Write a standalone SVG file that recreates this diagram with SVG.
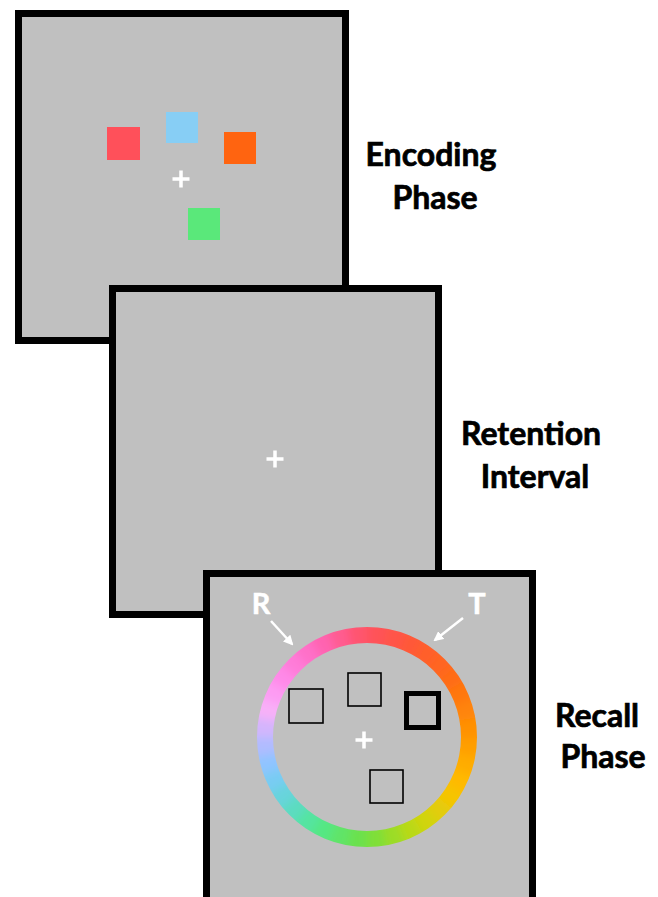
<svg xmlns="http://www.w3.org/2000/svg" width="658" height="897" viewBox="0 0 658 897">
<style>
.panel{fill:#c0c0c0;stroke:#000;stroke-width:7}
.cross{stroke:#fff;stroke-width:3.5;fill:none}
.label{font-family:Lato,"Liberation Sans",sans-serif;font-weight:bold;font-size:32px;fill:#000;stroke:#000;stroke-width:0.7;text-anchor:middle}
.letter{font-family:Lato,"Liberation Sans",sans-serif;font-weight:bold;font-size:29px;fill:#fff;stroke:#fff;stroke-width:0.5;text-anchor:middle}
.probe{fill:none;stroke:#000;stroke-width:1.6}
.seg{fill:none;stroke-width:34;stroke-dasharray:18.6 700}
.arrow{stroke:#fff;stroke-width:2.5;fill:none;marker-end:url(#ah)}
</style>
<defs>
<marker id="ah" viewBox="0 0 10 10" refX="8" refY="5" markerWidth="4" markerHeight="4" orient="auto" markerUnits="strokeWidth">
<path d="M0,0 L10,5 L0,10 z" fill="#fff"/>
</marker>
<clipPath id="ringclip">
<path clip-rule="evenodd" d="M110,0 A110,110 0 1,1 -110,0 A110,110 0 1,1 110,0 Z M94,0 A94,94 0 1,0 -94,0 A94,94 0 1,0 94,0 Z"/>
</clipPath>
<filter id="smooth" x="-20%" y="-20%" width="140%" height="140%">
<feGaussianBlur stdDeviation="5"/>
</filter>
</defs>
<rect width="658" height="897" fill="#fff"/>
<g id="encoding">
<rect class="panel" x="18.5" y="13.5" width="327" height="327"/>
<rect x="107" y="127" width="33" height="33" fill="#ff505a"/>
<rect x="166" y="112" width="32" height="31" fill="#87cef5"/>
<rect x="224" y="132" width="32" height="32" fill="#ff6410"/>
<rect x="188" y="208" width="32" height="32" fill="#5ae87a"/>
<path class="cross" d="M172.5,179 H189.5 M181,170.5 V187.5"/>
<text class="label" x="431" y="166">Encoding</text>
<text class="label" x="435" y="209">Phase</text>
</g>
<g id="retention">
<rect class="panel" x="112.5" y="288.5" width="326" height="326"/>
<path class="cross" d="M266.5,459 H283.5 M275,450.5 V467.5"/>
<text class="label" x="531" y="445">Retention</text>
<text class="label" x="535" y="488">Interval</text>
</g>
<g id="recall">
<rect class="panel" x="206.5" y="573.5" width="326" height="335"/>
<g id="wheel" transform="translate(367,737)" clip-path="url(#ringclip)">
<g filter="url(#smooth)">
<circle class="seg" r="102" stroke="#ff9f00" transform="rotate(0)"/>
<circle class="seg" r="102" stroke="#ffac00" transform="rotate(10)"/>
<circle class="seg" r="102" stroke="#ffb900" transform="rotate(20)"/>
<circle class="seg" r="102" stroke="#f6c403" transform="rotate(30)"/>
<circle class="seg" r="102" stroke="#e3cc08" transform="rotate(40)"/>
<circle class="seg" r="102" stroke="#d1d40d" transform="rotate(50)"/>
<circle class="seg" r="102" stroke="#b9d918" transform="rotate(60)"/>
<circle class="seg" r="102" stroke="#9cdc28" transform="rotate(70)"/>
<circle class="seg" r="102" stroke="#7fdf38" transform="rotate(80)"/>
<circle class="seg" r="102" stroke="#6be14d" transform="rotate(90)"/>
<circle class="seg" r="102" stroke="#60e468" transform="rotate(100)"/>
<circle class="seg" r="102" stroke="#55e783" transform="rotate(110)"/>
<circle class="seg" r="102" stroke="#54e4a0" transform="rotate(120)"/>
<circle class="seg" r="102" stroke="#5cdcc0" transform="rotate(130)"/>
<circle class="seg" r="102" stroke="#68d4dc" transform="rotate(140)"/>
<circle class="seg" r="102" stroke="#78ccf3" transform="rotate(150)"/>
<circle class="seg" r="102" stroke="#90c4ff" transform="rotate(160)"/>
<circle class="seg" r="102" stroke="#b0bcff" transform="rotate(170)"/>
<circle class="seg" r="102" stroke="#d3b5fd" transform="rotate(180)"/>
<circle class="seg" r="102" stroke="#f8b0f8" transform="rotate(190)"/>
<circle class="seg" r="102" stroke="#fd9bf3" transform="rotate(200)"/>
<circle class="seg" r="102" stroke="#ff89e8" transform="rotate(210)"/>
<circle class="seg" r="102" stroke="#ff7cd8" transform="rotate(220)"/>
<circle class="seg" r="102" stroke="#ff6fc8" transform="rotate(230)"/>
<circle class="seg" r="102" stroke="#ff64b0" transform="rotate(240)"/>
<circle class="seg" r="102" stroke="#ff5c90" transform="rotate(250)"/>
<circle class="seg" r="102" stroke="#ff5470" transform="rotate(260)"/>
<circle class="seg" r="102" stroke="#ff5258" transform="rotate(270)"/>
<circle class="seg" r="102" stroke="#ff5548" transform="rotate(280)"/>
<circle class="seg" r="102" stroke="#ff5838" transform="rotate(290)"/>
<circle class="seg" r="102" stroke="#ff5e2b" transform="rotate(300)"/>
<circle class="seg" r="102" stroke="#ff6520" transform="rotate(310)"/>
<circle class="seg" r="102" stroke="#ff6c15" transform="rotate(320)"/>
<circle class="seg" r="102" stroke="#ff770d" transform="rotate(330)"/>
<circle class="seg" r="102" stroke="#ff8408" transform="rotate(340)"/>
<circle class="seg" r="102" stroke="#ff9103" transform="rotate(350)"/>
</g>
</g>
<rect class="probe" x="289" y="689" width="34" height="34"/>
<rect class="probe" x="348" y="673" width="33" height="33"/>
<rect fill="none" stroke="#000" stroke-width="5" x="406.5" y="693.5" width="32" height="34"/>
<rect class="probe" x="370" y="770" width="33" height="33"/>
<path class="cross" d="M355.5,740 H372.5 M364,731.5 V748.5"/>
<text class="letter" x="261" y="614">R</text>
<text class="letter" x="477" y="614">T</text>
<text class="label" x="597" y="727">Recall</text>
<text class="label" x="603" y="768">Phase</text>
</g>
<g id="connectors">
<line class="arrow" x1="271" y1="621" x2="292" y2="644"/>
<line class="arrow" x1="463" y1="618" x2="435" y2="640"/>
</g>
</svg>
